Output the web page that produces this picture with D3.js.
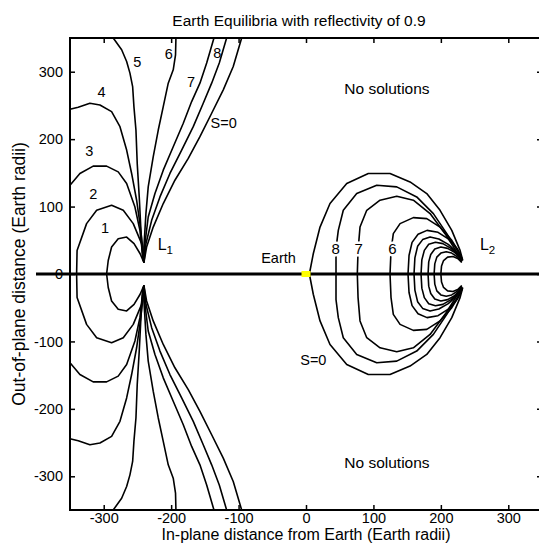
<!DOCTYPE html>
<html>
<head>
<meta charset="utf-8">
<script src="https://cdn.jsdelivr.net/npm/d3@7"></script>
<style>
  body { margin: 0; background: #fff; }
  svg text { font-family: Arial, "Liberation Sans", sans-serif; fill: #000; }
</style>
</head>
<body>
<div id="chart"></div>
<script>
/*************************************************
    Data (upper half, mirrored for y < 0):
 *************************************************/
var xTicks = [-300, -200, -100, 0, 100, 200, 300];
var yTicks = [-300, -200, -100, 0, 100, 200, 300];

// contours around L1
var l1Curve1 = [[-295.7, 0], [-293.3, 20], [-288.3, 40], [-278.5, 52.4], [-266, 54.8], [-255, 45], [-246, 30], [-240.4, 17]];
var l1Curve2 = [[-340.2, 0], [-339.5, 35], [-325.4, 74.7], [-310.5, 94.5], [-288.3, 102], [-271, 94.5], [-256.2, 74.7], [-243.8, 45], [-240.4, 17.5]];
var l1Curve3 = [[-350, 131.7], [-335.3, 149], [-315.6, 160], [-295.7, 160], [-278.5, 151.5], [-266, 134.2], [-253.7, 99.4], [-246.3, 64.7], [-241.4, 20]];
var l1Curve4 = [[-350, 244.3], [-337.8, 247.3], [-320.5, 253.3], [-305.6, 250.7], [-288.3, 240.8], [-275.9, 218.5], [-266, 183.8], [-258.6, 149.1], [-251.2, 109.4], [-246.3, 74.7], [-242.3, 39.9], [-240.4, 17]];
var l1Curve5 = [[-285.9, 350], [-273.4, 332.6], [-266, 315.2], [-261.1, 297.9], [-257.1, 278], [-255.2, 248.2], [-252.2, 213.5], [-250.3, 164], [-247.3, 114.3], [-244.8, 64.7], [-242.3, 25], [-240.4, 17]];
var l1Curve6 = [[-192.9, 350], [-193.5, 325], [-196.9, 302.8], [-204.3, 283], [-211.7, 248.2], [-219.1, 213.5], [-226.6, 173.8], [-234, 129.2], [-237.4, 89.6], [-240.4, 39.9], [-240.4, 17]];
var l1Curve7 = [[-136.5, 350], [-147.3, 312.8], [-157.3, 283], [-169.6, 255.7], [-182, 223.5], [-196.9, 188.7], [-211.7, 154], [-224, 119.3], [-234, 84.5], [-238.9, 44.9], [-240.4, 17]];
var l1Curve8 = [[-117.7, 350], [-128.6, 312.8], [-139.9, 283], [-152.4, 253.3], [-167.2, 218.5], [-184.4, 183.8], [-201.8, 149.1], [-216.6, 114.3], [-228.9, 79.6], [-237.4, 44.9], [-240.4, 17]];
var l1CurveS0 = [[-95.4, 350], [-107.9, 307.7], [-122.7, 273.1], [-139.9, 238.4], [-157.3, 203.6], [-174.6, 171.4], [-194.4, 139.1], [-211.7, 104.5], [-226.6, 69.6], [-236.4, 39.9], [-240.4, 17]];

// contours around L2
var l2CurveS0 = [[5, 0], [10.8, 30], [20.8, 69.6], [35.6, 104.5], [60.4, 134.2], [92.4, 149.1], [124.6, 149.1], [154.3, 136.6], [179.1, 119.3], [198.8, 94.5], [216.2, 64.7], [228.5, 35], [232.5, 20]];
var l2Curve8 = [[44.5, 0], [44.5, 38], [47.9, 64.7], [55.3, 94.5], [75.2, 119.3], [104.9, 131.7], [134.6, 129.2], [164.2, 114.3], [188.9, 89.6], [208.8, 59.8], [226, 32.4], [231, 20]];
var l2Curve7 = [[76.1, 0], [77.2, 35], [80.1, 69.6], [90.1, 94.5], [109.8, 109.4], [134.6, 115.3], [159.2, 109.4], [184, 89.6], [206.2, 59.8], [223.6, 32.4], [231, 20]];
var l2Curve6 = [[124.6, 0], [126.1, 35], [129.5, 59.8], [139.5, 74.7], [159.2, 83.6], [179.1, 82.1], [198.8, 69.6], [216.2, 49.9], [228.5, 30.1], [231.5, 20]];
var l2Curve5 = [[151.3, 0], [152.8, 27.5], [157.3, 46.9], [166.2, 58.8], [179.5, 64.7], [195.8, 61.8], [212.2, 51.3], [224, 37.9], [231.5, 23]];
var l2Curve4 = [[160.2, 0], [161.5, 24], [165.5, 41], [173, 51], [184, 55], [197, 52], [211, 44], [222, 34], [231, 21]];
var l2Curve3 = [[170.6, 0], [171.8, 21], [175.5, 35], [182, 44], [192, 47], [203, 45], [215, 38], [224, 30], [231, 20]];
var l2Curve2 = [[181, 0], [182, 18], [185, 29], [191, 37], [200, 40], [210, 38], [219, 33], [226, 27], [231, 19]];
var l2Curve1 = [[190, 0], [191, 15], [194, 25], [200, 31], [208, 33], [216, 31], [224, 26], [231, 18]];
var l2Curve0 = [[200, 0], [201, 12], [204, 20], [210, 25], [218, 26], [225, 23], [231, 17]];

var contours = [l1Curve1, l1Curve2, l1Curve3, l1Curve4, l1Curve5, l1Curve6, l1Curve7, l1Curve8, l1CurveS0,
                l2CurveS0, l2Curve8, l2Curve7, l2Curve6, l2Curve5, l2Curve4, l2Curve3, l2Curve2, l2Curve1, l2Curve0];

// contour levels written next to the lines
var labelTexts = ["1", "2", "3", "4", "5", "6", "7", "8", "S=0", "S=0"];
var labelX = [-297.9, -315.6, -321.5, -303.1, -250.3, -203.5, -170.6, -131.6, -122.1, 10.9];
var labelY = [68.5, 119.3, 182.7, 270.5, 315.2, 326.6, 285.4, 328.6, 224.3, -128];

// levels written inline on the L2 loops
var inlineTexts = ["8", "7", "6"];
var inlineX = [44, 78, 128];
var inlineY = [37.5, 37.5, 37.5];

var regionTexts = ["No solutions", "No solutions"];
var regionX = [120, 120];
var regionY = [275, -280];

/*************************************************
    Constructors:
 *************************************************/
function EquilibriaChart(selector) {
    this.width = 539;
    this.height = 547;
    this.svg = d3.select(selector).append("svg")
        .attr("width", this.width)
        .attr("height", this.height);
    this.x = d3.scaleLinear().domain([-350, 350]).range([70, 542]);
    this.y = d3.scaleLinear().domain([-350, 350]).range([510, 38]);
}

/*************************************************
    Methods:
 *************************************************/
EquilibriaChart.prototype.drawAxes = function() {
    var svg = this.svg, x = this.x, y = this.y;
    var x0 = x.range()[0], x1 = x.range()[1], y0 = y.range()[1], y1 = y.range()[0];
    var fmt = function(d) { return String(d); };

    svg.append("g")
        .attr("transform", "translate(0," + y1 + ")")
        .call(d3.axisBottom(x).tickValues(xTicks).tickFormat(fmt).tickSizeInner(-5).tickSizeOuter(0).tickPadding(2.5))
        .call(styleAxis);
    svg.append("g")
        .attr("transform", "translate(0," + y0 + ")")
        .call(d3.axisTop(x).tickValues(xTicks).tickSizeInner(-5).tickSizeOuter(0).tickFormat(""))
        .call(styleAxis);
    svg.append("g")
        .attr("transform", "translate(" + x0 + ",0)")
        .call(d3.axisLeft(y).tickValues(yTicks).tickFormat(fmt).tickSizeInner(-5).tickSizeOuter(0).tickPadding(7))
        .call(styleAxis);
    svg.append("g")
        .attr("transform", "translate(" + x1 + ",0)")
        .call(d3.axisRight(y).tickValues(yTicks).tickSizeInner(-5).tickSizeOuter(0).tickFormat(""))
        .call(styleAxis);

    svg.append("rect")
        .attr("x", x0).attr("y", y0)
        .attr("width", x1 - x0).attr("height", y1 - y0)
        .attr("fill", "none").attr("stroke", "#000").attr("stroke-width", 2);

    function styleAxis(g) {
        g.select(".domain").remove();
        g.selectAll(".tick line").attr("stroke", "#000").attr("stroke-width", 1.5);
        g.selectAll(".tick text").attr("font-size", 14.5).attr("fill", "#000");
    }
};

EquilibriaChart.prototype.drawContours = function() {
    var x = this.x, y = this.y;
    var line = d3.line().x(function(d) { return x(d[0]); }).y(function(d) { return y(d[1]); });
    var g = this.svg.append("g").attr("class", "contours");
    contours.forEach(function(c) {
        var lower = c.map(function(p) { return [p[0], -p[1]]; });
        [c, lower].forEach(function(pts) {
            g.append("path")
                .attr("d", line(pts))
                .attr("fill", "none")
                .attr("stroke", "#000")
                .attr("stroke-width", 1.6)
                .attr("stroke-linejoin", "round");
        });
    });
};

EquilibriaChart.prototype.drawLabels = function() {
    var svg = this.svg, x = this.x, y = this.y;

    // Sun-Earth line
    svg.append("line")
        .attr("x1", 36).attr("x2", x.range()[1])
        .attr("y1", y(0)).attr("y2", y(0))
        .attr("stroke", "#000").attr("stroke-width", 3);

    svg.append("rect")
        .attr("x", x(0) - 4.5).attr("y", y(0) - 3)
        .attr("width", 9).attr("height", 6)
        .attr("fill", "#ffff00");

    svg.selectAll("text.clabel")
        .data(labelTexts)
        .enter().append("text")
        .attr("class", "clabel")
        .attr("x", function(d, i) { return x(labelX[i]); })
        .attr("y", function(d, i) { return y(labelY[i]); })
        .attr("dy", "0.35em")
        .attr("text-anchor", "middle")
        .attr("font-size", 14.5)
        .text(function(d) { return d; });

    // inline labels break the line under them
    svg.selectAll("text.inline")
        .data(inlineTexts)
        .enter().append("text")
        .attr("class", "inline")
        .attr("x", function(d, i) { return x(inlineX[i]); })
        .attr("y", function(d, i) { return y(inlineY[i]); })
        .attr("dy", "0.35em")
        .attr("text-anchor", "middle")
        .attr("font-size", 15)
        .attr("stroke", "#fff")
        .attr("stroke-width", 5)
        .attr("paint-order", "stroke")
        .text(function(d) { return d; });

    svg.selectAll("text.region")
        .data(regionTexts)
        .enter().append("text")
        .attr("class", "region")
        .attr("x", function(d, i) { return x(regionX[i]); })
        .attr("y", function(d, i) { return y(regionY[i]); })
        .attr("dy", "0.35em")
        .attr("text-anchor", "middle")
        .attr("font-size", 15.5)
        .text(function(d) { return d; });

    svg.append("text")
        .attr("x", x(-15)).attr("y", y(16))
        .attr("text-anchor", "end")
        .attr("font-size", 14.5)
        .text("Earth");

    var l1 = svg.append("text").attr("x", x(-220)).attr("y", y(35.7)).attr("font-size", 16);
    l1.append("tspan").text("L");
    l1.append("tspan").attr("dy", 4).attr("font-size", 11.5).text("1");

    var l2 = svg.append("text").attr("x", x(258)).attr("y", y(35.7)).attr("font-size", 16);
    l2.append("tspan").text("L");
    l2.append("tspan").attr("dy", 4).attr("font-size", 11.5).text("2");

    svg.append("text")
        .attr("x", 299).attr("y", 26)
        .attr("text-anchor", "middle")
        .attr("font-size", 15.5)
        .text("Earth Equilibria with reflectivity of 0.9");

    svg.append("text")
        .attr("x", 306).attr("y", 540)
        .attr("text-anchor", "middle")
        .attr("font-size", 16)
        .text("In-plane distance from Earth (Earth radii)");

    svg.append("text")
        .attr("transform", "translate(25," + y(0) + ") rotate(-90)")
        .attr("text-anchor", "middle")
        .attr("font-size", 17.5)
        .text("Out-of-plane distance (Earth radii)");
};

var chart = new EquilibriaChart("#chart");
chart.drawContours();
chart.drawLabels();
chart.drawAxes();
</script>
</body>
</html>
